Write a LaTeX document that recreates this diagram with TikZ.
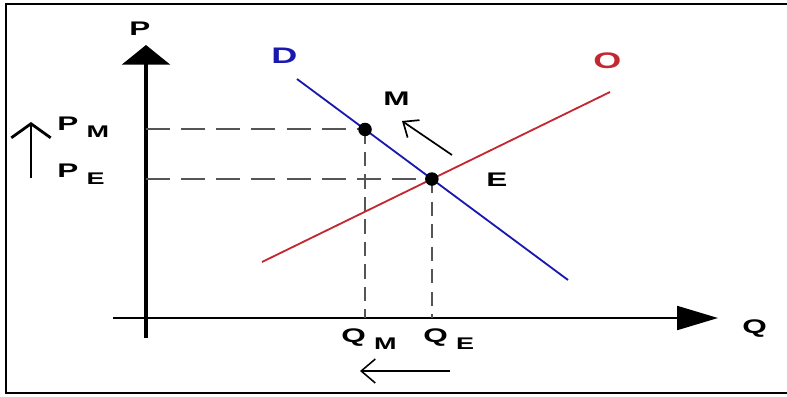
\documentclass[tikz,border=0pt]{standalone}
\usepackage{fontspec}
\setmainfont{Liberation Sans}
\usetikzlibrary{arrows.meta,calc,positioning}
\definecolor{demblue}{RGB}{25,25,175}
\definecolor{supred}{RGB}{195,40,50}
\definecolor{dashgray}{RGB}{85,85,85}
\newcommand{\wide}[1]{\scalebox{1.6}[1]{#1}}
\newcommand{\lowsub}[2]{\wide{#1}\hspace{6pt}\raisebox{-5pt}{\fontsize{12}{14}\selectfont\wide{#2}}}
\tikzset{
  lbl/.style={font=\fontsize{14}{16}\selectfont\bfseries, inner sep=0pt},
  biglbl/.style={font=\fontsize{16}{18}\selectfont\bfseries, inner sep=0pt},
  dline/.style={demblue, line width=1.3pt},
  sline/.style={supred, line width=1.3pt},
  hdash/.style={dashgray, line width=1.4pt, dash pattern=on 17pt off 8pt},
  vdash/.style={dashgray, line width=1.4pt, dash pattern=on 10pt off 6pt},
}

\begin{document}
\begin{tikzpicture}[x=0.025cm, y=-0.025cm]
  \useasboundingbox (0,0) rectangle (787,396);
  % frame
  \draw[line width=1.4pt] (787,4) -- (6,4) -- (6,393) -- (787,393);

  % axes
  \coordinate (org) at (146,318);
  \coordinate (xstart) at (113,318);
  \coordinate (xend) at (718,318);
  \coordinate (ystart) at (146,338);
  \coordinate (yend) at (146,45);
  \draw[line width=1.4pt,-{Triangle[length=29pt,width=17pt]}] (xstart) -- (xend);
  \draw[line width=2.8pt,-{Triangle[length=14pt,width=34pt]}] (ystart) -- (yend);

  % demand and supply
  \coordinate (d1) at (297,79);
  \coordinate (d2) at (568,280);
  \coordinate (s1) at (262,262);
  \coordinate (s2) at (610,92);
  \coordinate (E) at (intersection of d1--d2 and s1--s2);
  \coordinate (M) at ($(d1)!0.251!(d2)$);

  \draw[hdash] (org |- M) -- (M);
  \draw[hdash] (org |- E) -- (E);
  \draw[vdash] (M) -- (M |- org);
  \draw[vdash] (E) -- (E |- org);

  \draw[dline] (d1) -- (d2);
  \draw[sline] (s1) -- (s2);
  \fill (M) circle[radius=4.8pt];
  \fill (E) circle[radius=4.8pt];

  % labels
  \node[lbl, anchor=base west] (pP) at (129,35) {\wide{P}};
  \node[lbl, anchor=base west] (qQ) at (742,333) {\wide{Q}};
  \node[biglbl, demblue, anchor=base west] (dD) at (271,63) {\wide{D}};
  \node[biglbl, supred, anchor=base west] (oO) at (593,68) {\wide{O}};
  \node[lbl, anchor=base west] (mM) at (383,105) {\wide{M}};
  \node[lbl, anchor=base west] (eE) at (486,186) {\wide{E}};
  \node[lbl, anchor=base west] (pM) at (57,130) {\lowsub{P}{M}};
  \node[lbl, anchor=base west] (pE) at (57,177) {\lowsub{P}{E}};
  \node[lbl, anchor=base west] (qM) at (341,342) {\lowsub{Q}{M}};
  \node[lbl, anchor=base west] (qE) at (423,342) {\lowsub{Q}{E}};

  % shifts
  \coordinate (ma) at (452,155);
  \coordinate (mb) at (402,121);
  \coordinate (qa) at (450,371);
  \coordinate (qb) at (360,371);
  \coordinate (pa) at (31,178);
  \coordinate (pb) at (31,122);
  \draw[line width=1.2pt,-{Straight Barb[length=9pt,width=15pt]}] (ma) -- (mb);
  \draw[line width=1.1pt,-{Straight Barb[length=10pt,width=17pt]}] (qa) -- (qb);
  \draw[line width=2pt,-{Straight Barb[length=10pt,width=28pt]}] (pa) -- (pb);
\end{tikzpicture}
\end{document}
